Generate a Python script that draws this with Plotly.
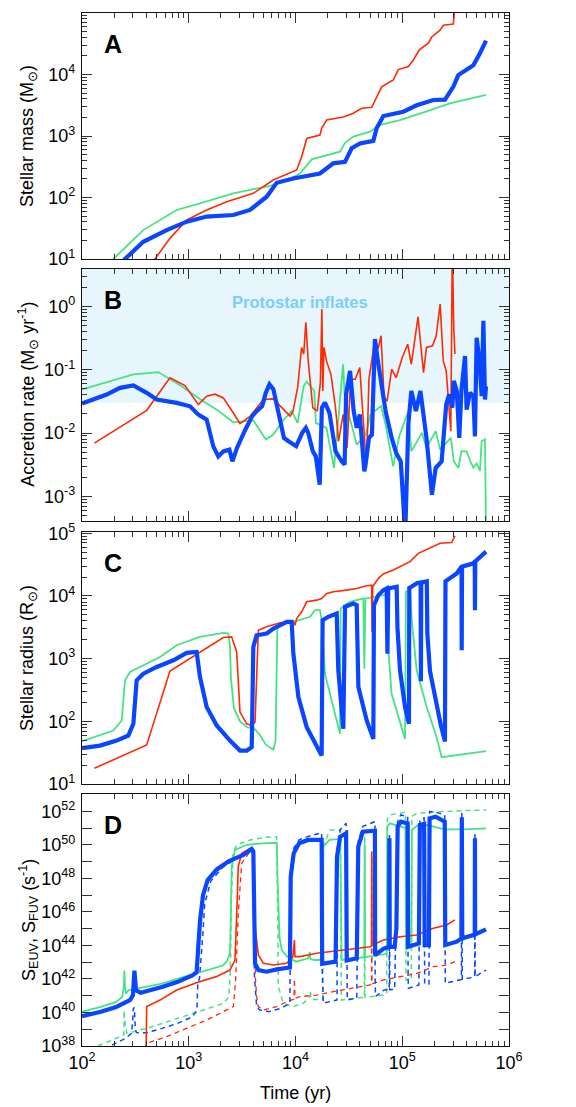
import plotly.graph_objects as go

# ---------------- data (log10 time [yr], log10 value) ----------------
A_green = [(2.2,0.85),(2.293,1.0),(2.574,1.47),(2.887,1.797),(3.105,1.905),(3.417,2.068),(3.761,2.19),(3.92,2.28),(4.042,2.39),(4.152,2.62),(4.417,2.745),(4.464,2.89),(4.542,2.99),(4.698,3.07),(4.792,3.18),(4.979,3.26),(5.229,3.40),(5.447,3.53),(5.785,3.667)]
A_red = [(2.62,0.85),(2.684,1.0),(2.824,1.336),(2.981,1.634),(3.168,1.797),(3.356,1.93),(3.605,2.068),(3.792,2.285),(4.011,2.447),(4.058,2.664),(4.105,2.96),(4.229,3.016),(4.245,3.125),(4.292,3.26),(4.448,3.31),(4.542,3.37),(4.62,3.45),(4.714,3.467),(4.807,3.80),(4.916,3.91),(4.963,4.08),(5.057,4.13),(5.104,4.236),(5.16,4.40),(5.244,4.51),(5.276,4.61),(5.354,4.72),(5.385,4.80),(5.478,4.82),(5.494,5.1)]
A_blue = [(2.35,0.88),(2.403,1.0),(2.574,1.28),(2.793,1.47),(2.981,1.607),(3.168,1.69),(3.417,1.715),(3.574,1.797),(3.73,2.013),(3.824,2.24),(3.979,2.31),(4.229,2.39),(4.354,2.556),(4.464,2.58),(4.526,2.80),(4.604,2.88),(4.729,2.92),(4.76,3.125),(4.823,3.325),(5.01,3.395),(5.135,3.50),(5.291,3.585),(5.40,3.59),(5.478,3.80),(5.525,3.99),(5.666,4.15),(5.728,4.345),(5.785,4.55)]

B_green = [(2.0,-1.312),(2.481,-1.074),(2.715,-1.037),(2.856,-1.18),(2.934,-1.26),(3.09,-1.445),(3.262,-1.63),(3.418,-1.831),(3.511,-1.815),(3.605,-1.80),(3.722,-2.103),(3.793,-2.024),(3.878,-1.812),(3.963,-1.654),(4.02,-1.839),(4.077,-1.257),(4.105,-1.188),(4.176,-1.336),(4.19,-1.839),(4.29,-1.918),(4.361,-2.553),(4.446,-0.913),(4.46,-1.389),(4.503,-1.733),(4.574,-2.183),(4.659,-2.024),(4.702,-1.706),(4.801,-1.574),(4.844,-1.865),(4.915,-2.526),(4.972,-2.05),(5.057,-1.654),(5.085,-2.288),(5.142,-2.13),(5.185,-1.997),(5.227,-2.235),(5.313,-1.971),(5.355,-2.262),(5.455,-2.077),(5.483,-2.447),(5.526,-2.553),(5.554,-2.288),(5.603,-2.29),(5.634,-2.43),(5.666,-2.55),(5.697,-2.48),(5.728,-2.60),(5.744,-2.13),(5.775,-2.10),(5.785,-3.6)]
B_red = [(2.116,-2.159),(2.606,-1.641),(2.824,-1.127),(2.965,-1.249),(3.09,-1.551),(3.168,-1.418),(3.246,-1.386),(3.324,-1.445),(3.418,-1.683),(3.48,-1.852),(3.574,-1.736),(3.699,-1.471),(3.792,-1.46),(3.886,-1.63),(3.949,-1.733),(3.977,-1.654),(4.02,-1.283),(4.057,-0.648),(4.077,-0.754),(4.097,-0.252),(4.119,-0.86),(4.162,-1.60),(4.204,-1.654),(4.233,-1.204),(4.247,-0.04),(4.256,-1.336),(4.267,-0.648),(4.29,-0.86),(4.332,-1.072),(4.375,-1.60),(4.403,-2.13),(4.446,-1.706),(4.483,-2.235),(4.517,-1.151),(4.56,-1.151),(4.602,-0.966),(4.645,-2.065),(4.665,-2.55),(4.688,-1.151),(4.744,-0.516),(4.773,-0.675),(4.801,-0.463),(4.83,-1.442),(4.858,-1.495),(4.901,-0.992),(4.943,-1.125),(5.0,-0.807),(5.051,-0.596),(5.085,-0.913),(5.128,-0.357),(5.148,-0.162),(5.199,-1.045),(5.227,-0.648),(5.284,-0.622),(5.318,-0.463),(5.355,0.039),(5.384,-0.86),(5.412,-1.019),(5.455,-1.971),(5.469,1.0),(5.483,-0.384),(5.494,-0.75)]
B_blue = [(2.0,-1.535),(2.231,-1.392),(2.356,-1.286),(2.481,-1.249),(2.606,-1.365),(2.7,-1.471),(2.887,-1.524),(3.012,-1.577),(3.09,-1.709),(3.168,-1.788),(3.23,-2.211),(3.277,-2.37),(3.324,-2.29),(3.381,-2.262),(3.409,-2.447),(3.452,-2.235),(3.523,-1.971),(3.594,-1.733),(3.636,-1.654),(3.688,-1.574),(3.722,-1.363),(3.756,-1.23),(3.793,-1.31),(3.835,-1.654),(3.892,-2.077),(3.935,-2.13),(4.006,-2.209),(4.063,-1.997),(4.097,-1.918),(4.119,-1.997),(4.162,-2.288),(4.19,-2.368),(4.227,-2.817),(4.247,-1.60),(4.276,-1.521),(4.318,-1.68),(4.375,-2.288),(4.432,-2.447),(4.46,-2.5),(4.474,-1.389),(4.511,-1.019),(4.545,-1.654),(4.574,-1.918),(4.602,-1.706),(4.645,-2.606),(4.665,-2.394),(4.688,-2.077),(4.716,-2.024),(4.744,-0.516),(4.767,-0.807),(4.787,-1.072),(4.815,-1.336),(4.844,-1.654),(4.872,-1.865),(4.901,-2.077),(4.943,-2.315),(4.986,-2.447),(5.028,-3.6),(5.057,-1.865),(5.085,-1.336),(5.128,-1.654),(5.17,-1.336),(5.227,-2.077),(5.278,-2.976),(5.313,-2.553),(5.369,-2.447),(5.412,-1.548),(5.44,-1.389),(5.469,-1.60),(5.483,-1.177),(5.511,-1.336),(5.534,-2.077),(5.554,-1.336),(5.588,-0.783),(5.603,-1.63),(5.634,-1.365),(5.666,-1.418),(5.681,-2.053),(5.697,-0.493),(5.722,-0.836),(5.744,-1.418),(5.76,-0.228),(5.775,-1.471),(5.785,-1.26)]

C_green = [(2.0,1.683),(2.294,1.853),(2.372,2.013),(2.403,2.653),(2.45,2.787),(2.575,2.893),(2.731,3.027),(2.887,3.213),(3.105,3.347),(3.324,3.411),(3.371,3.40),(3.386,3.2),(3.395,2.691),(3.423,2.213),(3.48,2.0),(3.551,1.904),(3.608,1.894),(3.665,1.787),(3.722,1.628),(3.793,1.548),(3.813,1.681),(3.83,3.489),(3.858,3.542),(3.98,3.587),(4.136,3.667),(4.183,3.773),(4.229,3.773),(4.245,3.613),(4.276,2.76),(4.354,2.227),(4.417,1.80),(4.423,3.80),(4.51,3.907),(4.635,3.96),(4.645,2.84),(4.655,3.96),(4.698,3.976),(4.823,4.013),(4.854,4.04),(4.863,3.3),(4.9,2.44),(4.979,2.013),(5.026,1.72),(5.035,4.067),(5.073,4.093),(5.09,3.6),(5.135,2.813),(5.229,2.227),(5.322,1.747),(5.369,1.427),(5.478,1.453),(5.785,1.523)]
C_red = [(2.116,1.251),(2.606,1.624),(2.824,2.803),(2.981,2.973),(3.105,3.107),(3.23,3.24),(3.324,3.336),(3.402,3.347),(3.449,3.107),(3.48,2.147),(3.543,1.96),(3.59,1.933),(3.621,1.987),(3.652,3.453),(3.73,3.507),(3.855,3.571),(3.98,3.587),(3.995,3.533),(4.011,3.64),(4.058,3.747),(4.105,3.907),(4.198,3.933),(4.245,3.96),(4.292,4.04),(4.354,4.067),(4.479,4.093),(4.573,4.12),(4.667,4.163),(4.714,4.173),(4.717,3.427),(4.723,4.147),(4.776,4.28),(4.823,4.35),(4.916,4.413),(5.01,4.493),(5.073,4.547),(5.151,4.68),(5.26,4.76),(5.354,4.84),(5.463,4.851),(5.494,4.957)]
C_blue = [(2.0,1.571),(2.169,1.613),(2.325,1.693),(2.434,1.773),(2.481,1.96),(2.512,2.653),(2.575,2.76),(2.7,2.867),(2.856,2.973),(2.981,3.091),(3.074,3.107),(3.105,2.707),(3.168,2.227),(3.262,1.933),(3.386,1.693),(3.48,1.533),(3.543,1.533),(3.59,1.587),(3.605,3.187),(3.636,3.373),(3.73,3.40),(3.793,3.48),(3.918,3.587),(3.964,3.587),(3.98,3.08),(4.027,2.387),(4.105,1.907),(4.198,1.587),(4.245,1.453),(4.254,3.613),(4.307,3.667),(4.386,3.72),(4.401,2.813),(4.448,1.88),(4.464,3.827),(4.542,3.88),(4.573,3.853),(4.589,2.547),(4.667,2.013),(4.729,1.72),(4.735,3.853),(4.776,4.013),(4.823,4.093),(4.854,4.12),(4.861,3.08),(4.869,4.12),(4.948,4.147),(4.955,3.5),(4.979,2.813),(5.026,2.227),(5.063,1.96),(5.066,4.127),(5.142,4.206),(5.172,4.215),(5.175,2.638),(5.178,4.215),(5.23,4.233),(5.235,3.4),(5.26,2.8),(5.313,2.3),(5.36,1.95),(5.40,1.68),(5.405,4.233),(5.51,4.36),(5.555,4.467),(5.557,3.133),(5.56,4.467),(5.666,4.52),(5.679,4.55),(5.681,3.773),(5.684,4.55),(5.785,4.707)]

D_green = [(2.0,40.04),(2.177,40.33),(2.32,40.63),(2.377,40.92),(2.392,41.5),(2.397,42.5),(2.403,41.5),(2.411,41.12),(2.434,41.32),(2.606,41.52),(2.749,41.72),(2.891,42.01),(3.034,42.27),(3.177,42.5),(3.32,42.8),(3.36,43.1),(3.386,43.53),(3.395,46.0),(3.402,48.7),(3.433,49.69),(3.543,50.0),(3.73,50.1),(3.824,50.12),(3.835,47.3),(3.85,44.5),(3.871,43.73),(3.92,43.33),(4.006,43.03),(4.119,43.23),(4.134,43.6),(4.14,43.2),(4.176,43.13),(4.256,43.13),(4.261,49.89),(4.318,50.29),(4.42,50.35),(4.425,43.5),(4.432,43.13),(4.645,43.3),(4.648,50.0),(4.651,43.3),(4.854,43.5),(4.86,51.1),(4.885,51.28),(4.979,51.1),(5.03,51.0),(5.035,43.8),(5.085,43.9),(5.09,50.9),(5.15,51.18),(5.229,51.18),(5.341,51.0),(5.398,50.92),(5.585,50.92),(5.785,50.98)]
D_green_dash = [(2.149,38.0),(2.32,38.45),(2.391,38.65),(2.395,40.13),(2.40,39.5),(2.42,38.75),(2.606,39.05),(2.749,39.34),(2.891,39.64),(3.034,39.94),(3.177,40.23),(3.32,40.53),(3.377,40.92),(3.39,42.5),(3.40,47.0),(3.415,49.5),(3.45,50.0),(3.574,50.29),(3.73,50.45),(3.824,50.48),(3.835,45.0),(3.839,41.54),(3.886,40.55),(3.98,40.35),(4.073,40.55),(4.136,40.94),(4.14,41.3),(4.145,40.8),(4.23,40.74),(4.256,40.8),(4.262,50.0),(4.323,50.88),(4.42,50.9),(4.425,41.0),(4.43,40.74),(4.542,40.84),(4.645,40.9),(4.648,50.5),(4.651,40.9),(4.823,41.04),(4.854,41.1),(4.86,51.5),(4.885,51.78),(5.03,51.95),(5.035,41.94),(5.085,42.0),(5.09,51.7),(5.142,51.88),(5.291,51.95),(5.585,52.04),(5.785,52.08)]
D_red = [(2.600,37.5),(2.606,40.35),(2.731,40.74),(2.887,41.34),(3.105,41.84),(3.262,42.14),(3.386,42.53),(3.433,43.13),(3.45,46.0),(3.464,48.7),(3.496,49.49),(3.574,49.79),(3.605,49.69),(3.621,45.12),(3.652,43.43),(3.699,42.93),(3.792,42.83),(3.917,42.93),(3.975,43.3),(3.99,44.32),(3.995,43.33),(4.042,43.33),(4.198,43.53),(4.354,43.63),(4.51,43.77),(4.698,43.92),(4.712,43.95),(4.714,49.6),(4.717,43.98),(4.723,44.02),(4.823,44.32),(4.979,44.52),(5.135,44.62),(5.291,45.02),(5.416,45.22),(5.494,45.52)]
D_red_dash = [(2.59,37.8),(2.606,38.16),(2.793,38.56),(2.98,39.05),(3.168,39.55),(3.355,40.15),(3.418,40.35),(3.44,42.0),(3.464,45.91),(3.496,48.89),(3.574,49.6),(3.605,49.55),(3.625,42.0),(3.636,40.94),(3.652,40.35),(3.699,40.15),(3.824,40.35),(3.917,40.64),(3.985,40.8),(3.99,42.0),(3.995,40.85),(4.042,40.94),(4.198,41.04),(4.354,41.24),(4.51,41.44),(4.698,41.64),(4.712,41.66),(4.714,49.3),(4.717,41.7),(4.823,41.94),(4.979,42.14),(5.135,42.33),(5.291,42.73),(5.416,42.83),(5.494,43.03)]
D_blue = [(2.0,39.78),(2.177,40.04),(2.32,40.33),(2.449,40.73),(2.477,41.02),(2.491,42.5),(2.506,41.32),(2.549,41.18),(2.749,41.52),(2.891,41.81),(3.034,42.21),(3.074,42.4),(3.09,44.0),(3.106,45.5),(3.134,47.0),(3.177,47.9),(3.263,48.53),(3.377,49.03),(3.511,49.39),(3.589,49.75),(3.605,49.6),(3.614,44.5),(3.621,42.93),(3.652,42.53),(3.73,42.43),(3.824,42.57),(3.948,42.68),(3.955,48.10),(3.983,49.49),(4.034,50.09),(4.119,50.29),(4.245,50.3),(4.25,42.9),(4.375,43.03),(4.389,49.29),(4.418,50.48),(4.474,50.68),(4.48,43.1),(4.574,43.23),(4.588,49.89),(4.631,50.78),(4.744,50.84),(4.746,43.43),(4.83,43.82),(4.878,43.9),(4.88,50.39),(4.883,43.9),(4.929,43.92),(4.945,45.0),(4.957,51.08),(4.986,51.38),(5.051,51.28),(5.055,43.92),(5.156,44.12),(5.165,51.18),(5.205,51.24),(5.21,44.02),(5.25,44.02),(5.256,51.58),(5.313,51.68),(5.398,51.38),(5.403,44.02),(5.511,44.22),(5.554,44.42),(5.558,51.64),(5.562,44.42),(5.666,44.62),(5.679,44.65),(5.681,50.39),(5.683,44.65),(5.785,44.96)]
D_blue_dash = [(2.2,37.9),(2.263,38.0),(2.406,38.45),(2.463,38.75),(2.475,39.5),(2.48,40.2),(2.49,40.3),(2.50,39.0),(2.51,38.8),(2.606,38.79),(2.749,39.05),(2.891,39.34),(3.034,39.74),(3.077,40.13),(3.085,41.81),(3.10,42.0),(3.13,44.5),(3.149,46.46),(3.206,47.84),(3.32,48.67),(3.434,49.13),(3.511,49.4),(3.589,49.8),(3.605,49.7),(3.615,42.2),(3.636,40.35),(3.665,40.15),(3.75,40.05),(3.864,40.25),(3.948,40.55),(3.955,48.5),(3.983,49.8),(4.034,50.3),(4.119,50.5),(4.245,50.72),(4.25,42.5),(4.261,40.55),(4.389,40.75),(4.392,49.8),(4.42,50.9),(4.474,51.28),(4.48,42.0),(4.485,40.75),(4.574,40.85),(4.588,50.2),(4.631,51.1),(4.744,51.38),(4.746,42.0),(4.75,40.95),(4.83,41.34),(4.878,41.36),(4.88,50.6),(4.883,41.36),(4.929,41.38),(4.957,51.4),(4.986,51.78),(5.051,51.68),(5.055,42.0),(5.058,41.44),(5.156,41.64),(5.165,51.5),(5.205,51.6),(5.21,41.7),(5.25,41.7),(5.256,51.98),(5.313,51.95),(5.398,51.78),(5.403,41.74),(5.54,41.94),(5.554,41.97),(5.558,51.9),(5.562,41.97),(5.666,42.1),(5.679,42.14),(5.681,50.7),(5.683,42.14),(5.785,42.53)]

x_tick_exp = [2, 3, 4, 5, 6]
A_tick_exp = [1, 2, 3, 4, 5]
B_tick_exp = [-3, -2, -1, 0]
C_tick_exp = [1, 2, 3, 4, 5]
D_tick_exp = [38, 40, 42, 44, 46, 48, 50, 52]
D_minor_exp = [39, 41, 43, 45, 47, 49, 51, 53]

panel_letters = ["A", "B", "C", "D"]
y_titles = ["Stellar mass (M<sub>\u2299</sub>)",
            "Accretion rate (M<sub>\u2299</sub> yr<sup>-1</sup>)",
            "Stellar radius (R<sub>\u2299</sub>)",
            "S<sub>EUV</sub>, S<sub>FUV</sub> (s<sup>-1</sup>)"]
x_title = "Time (yr)"
inflate_label = "Protostar inflates"
inflate_threshold = 0.03

# ---------------- style / geometry ----------------
FONT = "Liberation Sans, Arial, Helvetica, sans-serif"
RED = "#ff2a00"
GREEN = "#45e383"
BLUE = "#0a45ff"
OFF = 8                      # page body margin of the html page
W, H = 576 - OFF, 1107 - OFF
PLOT_L, PLOT_R = 82, 509     # plot area on the page (px)
PLOT_T, PLOT_B = 13, 1046
ML, MR = PLOT_L - OFF, W - (PLOT_R - OFF)
MT, MB = PLOT_T - OFF, H - (PLOT_B - OFF)
PW, PH = PLOT_R - PLOT_L, PLOT_B - PLOT_T
panel_px = [(13, 259), (268.5, 521), (532, 784), (794, 1046)]
y_ranges = [[1, 5], [-3.39, 0.6], [1, 5.02], [38, 53.03]]


def fy(py):
    return (PLOT_B - py) / PH


def fx(px):
    return (px - PLOT_L) / PW


fig = go.Figure()


def add(pairs, k, color, width, dash=None):
    xs = [10 ** p[0] for p in pairs]
    ys = [10 ** p[1] for p in pairs]
    sfx = "" if k == 1 else str(k)
    fig.add_trace(go.Scatter(x=xs, y=ys, mode="lines",
                             line=dict(color=color, width=width, dash=dash),
                             xaxis="x" + sfx, yaxis="y" + sfx,
                             showlegend=False, hoverinfo="skip"))


add(A_green, 1, GREEN, 1.8)
add(A_red, 1, RED, 1.6)
add(A_blue, 1, BLUE, 4.2)
add(B_green, 2, GREEN, 1.8)
add(B_red, 2, RED, 1.6)
add(B_blue, 2, BLUE, 4.2)
add(C_green, 3, GREEN, 1.8)
add(C_red, 3, RED, 1.6)
add(C_blue, 3, BLUE, 4.2)
add(D_green_dash, 4, GREEN, 1.5, "5px,4px")
add(D_red_dash, 4, RED, 1.3, "5px,4px")
add(D_blue_dash, 4, BLUE, 1.5, "5px,4px")
add(D_green, 4, GREEN, 1.8)
add(D_red, 4, RED, 1.6)
add(D_blue, 4, BLUE, 4.2)


def sup(e):
    return "10<sup>%d</sup>" % e


minor_x = [m * 10 ** e for e in range(2, 6) for m in range(2, 10)]

common_axis = dict(type="log", showline=True, linecolor="#111", linewidth=1.4,
                   mirror="ticks", ticks="inside", ticklen=10, tickwidth=1.3,
                   tickcolor="#333", showgrid=False, zeroline=False,
                   tickfont=dict(family=FONT, size=18, color="#000"))

layout = dict(width=W, height=H, margin=dict(l=ML, r=MR, t=MT, b=MB, autoexpand=False),
              paper_bgcolor="white", plot_bgcolor="white",
              font=dict(family=FONT, color="#000"), showlegend=False)

ytick_exps = [A_tick_exp, B_tick_exp, C_tick_exp, D_tick_exp]
for k in range(4):
    sfx = "" if k == 0 else str(k + 1)
    top, bot = panel_px[k]
    lo, hi = y_ranges[k]
    xa = dict(common_axis, range=[2, 6], domain=[0, 1], anchor="y" + sfx,
              tickvals=[10 ** e for e in x_tick_exp],
              ticktext=[sup(e) for e in x_tick_exp],
              showticklabels=(k == 3),
              minor=dict(ticks="inside", ticklen=5, tickwidth=1.1, tickcolor="#333",
                         tickvals=minor_x, showgrid=False))
    if k == 3:
        yminor = dict(ticks="inside", ticklen=10, tickwidth=1.3, tickcolor="#333",
                      tickvals=[10.0 ** e for e in D_minor_exp], showgrid=False)
    else:
        yminor = dict(ticks="inside", ticklen=5, tickwidth=1.1, tickcolor="#333",
                      tickvals=[m * 10.0 ** e for e in range(int(lo) - 1, int(hi) + 1)
                                for m in range(2, 10)], showgrid=False)
    ya = dict(common_axis, range=y_ranges[k], domain=[fy(bot), fy(top)], anchor="x" + sfx,
              tickvals=[10.0 ** e for e in ytick_exps[k]],
              ticktext=[sup(e) for e in ytick_exps[k]], minor=yminor,
              ticklabelstandoff=2)
    layout["xaxis" + sfx] = xa
    layout["yaxis" + sfx] = ya

fig.update_layout(**layout)

# shaded "protostar inflates" region in panel B
fig.add_shape(type="rect", xref="x2 domain", yref="y2", x0=0, x1=1,
              y0=inflate_threshold, y1=100, fillcolor="#e6f6fc",
              line=dict(width=0), layer="below")
fig.add_annotation(x=4.04, y=0.07, xref="x2", yref="y2", text="<b>%s</b>" % inflate_label,
                   showarrow=False, font=dict(family=FONT, size=16.5, color="#7ccdf7"))

for k in range(4):
    top, bot = panel_px[k]
    fig.add_annotation(xref="paper", yref="paper", x=fx(102),
                       y=fy(top + 15), xanchor="left", yanchor="top",
                       text="<b>%s</b>" % panel_letters[k], showarrow=False,
                       font=dict(family=FONT, size=25, color="#000"))
    fig.add_annotation(xref="paper", yref="paper", x=fx(28),
                       y=fy((top + bot) / 2), xanchor="center", yanchor="middle",
                       textangle=-90, text=y_titles[k], showarrow=False,
                       font=dict(family=FONT, size=18, color="#000"))

fig.add_annotation(xref="paper", yref="paper", x=fx(295),
                   y=fy(1093), xanchor="center", yanchor="middle", text=x_title,
                   showarrow=False, font=dict(family=FONT, size=18, color="#000"))

fig.write_html("out.html")
